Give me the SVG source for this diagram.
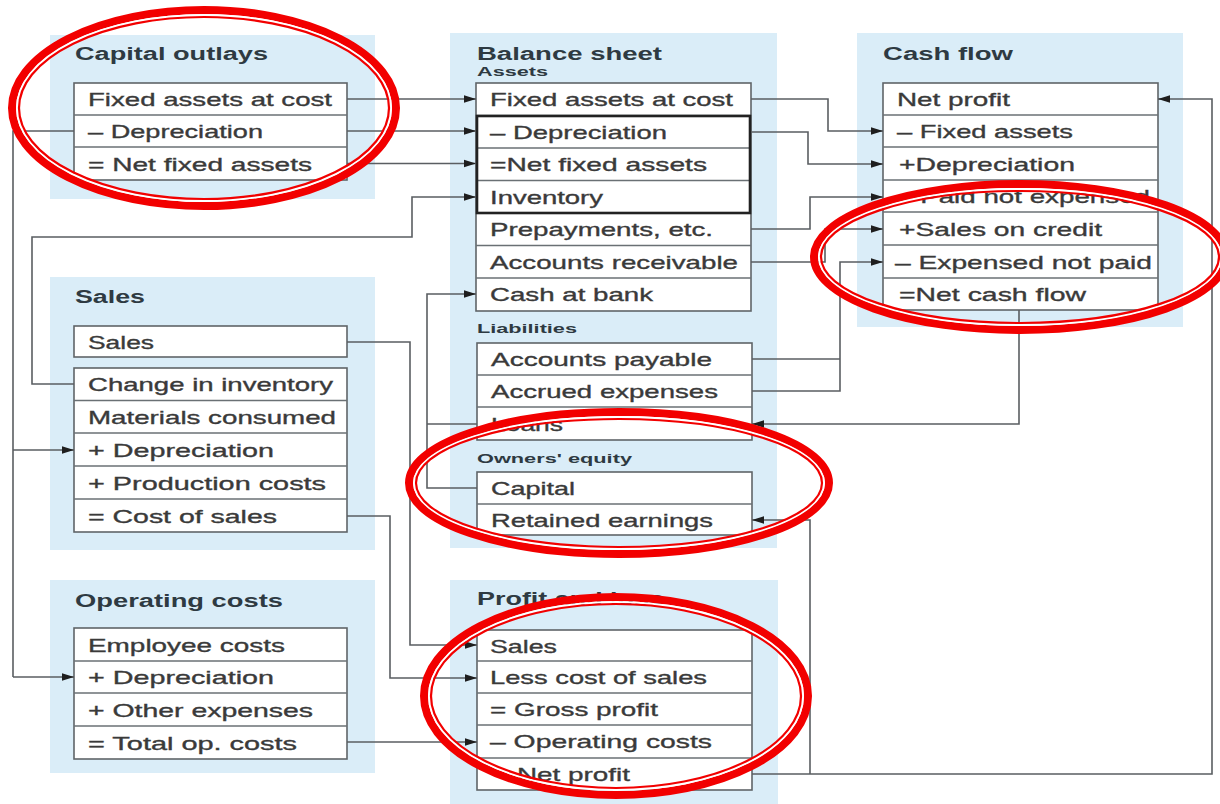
<svg xmlns="http://www.w3.org/2000/svg" width="1220" height="804" viewBox="0 0 1220 804">
<style>
.bg{fill:#ffffff}
.panel{fill:#daedf8}
.tbl{fill:#ffffff;stroke:#5f6468;stroke-width:1.6}
.div{stroke:#6a7074;stroke-width:1.4}
.thick{fill:none;stroke:#222;stroke-width:2.6}
.t{font-family:"Liberation Sans",Arial,sans-serif;font-size:19px;fill:#3a3a3a;stroke:#3a3a3a;stroke-width:0.35}
.h{font-family:"Liberation Sans",Arial,sans-serif;font-size:18px;font-weight:bold;fill:#2e3a42}
.s{font-family:"Liberation Sans",Arial,sans-serif;font-size:12px;font-weight:bold;fill:#2e3a42}
.c{fill:none;stroke:#5a5e62;stroke-width:1.6}
.ca{fill:none;stroke:#5a5e62;stroke-width:1.6;marker-end:url(#ah)}
.ro{fill:none;stroke:#f20000;stroke-width:8}
.rw{fill:none;stroke:#ffffff;stroke-width:2}
.ri{fill:none;stroke:#f20000;stroke-width:2.2}
</style>
<defs>
<marker id="ah" markerUnits="userSpaceOnUse" markerWidth="14" markerHeight="10" refX="12" refY="5" orient="auto">
<path d="M0,1.2 L12,5 L0,8.8 z" fill="#1e1e1e"/>
</marker>
</defs>
<rect class="bg" x="0" y="0" width="1220" height="804"/>

<g id="capital-outlays">
<rect class="panel" x="50" y="35" width="325" height="164"/>
<text class="h" x="75" y="60" textLength="193" lengthAdjust="spacingAndGlyphs">Capital outlays</text>
<rect class="tbl" x="74" y="83" width="273" height="97"/>
<line class="div" x1="74" y1="115" x2="347" y2="115"/>
<line class="div" x1="74" y1="147" x2="347" y2="147"/>
<text class="t" x="88" y="106" textLength="244" lengthAdjust="spacingAndGlyphs">Fixed assets at cost</text>
<text class="t" x="88" y="138" textLength="175" lengthAdjust="spacingAndGlyphs">– Depreciation</text>
<text class="t" x="88" y="170.5" textLength="224" lengthAdjust="spacingAndGlyphs">= Net fixed assets</text>
</g>

<g id="balance-sheet">
<rect class="panel" x="450" y="33" width="327" height="515"/>
<text class="h" x="477" y="60" textLength="185" lengthAdjust="spacingAndGlyphs">Balance sheet</text>
<text class="s" x="477" y="76" textLength="71" lengthAdjust="spacingAndGlyphs">Assets</text>
<rect class="tbl" x="476" y="83" width="275" height="228"/>
<line class="div" x1="476" y1="115.5" x2="751" y2="115.5"/>
<line class="div" x1="476" y1="148" x2="751" y2="148"/>
<line class="div" x1="476" y1="180.5" x2="751" y2="180.5"/>
<line class="div" x1="476" y1="213" x2="751" y2="213"/>
<line class="div" x1="476" y1="245.5" x2="751" y2="245.5"/>
<line class="div" x1="476" y1="278" x2="751" y2="278"/>
<rect class="thick" x="477" y="116" width="273" height="97"/>
<text class="t" x="490" y="106" textLength="243" lengthAdjust="spacingAndGlyphs">Fixed assets at cost</text>
<text class="t" x="490" y="139" textLength="177" lengthAdjust="spacingAndGlyphs">– Depreciation</text>
<text class="t" x="490" y="171" textLength="217" lengthAdjust="spacingAndGlyphs">=Net fixed assets</text>
<text class="t" x="490" y="204" textLength="113" lengthAdjust="spacingAndGlyphs">Inventory</text>
<text class="t" x="490" y="236" textLength="223" lengthAdjust="spacingAndGlyphs">Prepayments, etc.</text>
<text class="t" x="490" y="269" textLength="248" lengthAdjust="spacingAndGlyphs">Accounts receivable</text>
<text class="t" x="490" y="301" textLength="163" lengthAdjust="spacingAndGlyphs">Cash at bank</text>
<text class="s" x="477" y="333" textLength="100" lengthAdjust="spacingAndGlyphs">Liabilities</text>
<rect class="tbl" x="477" y="343" width="275" height="97"/>
<line class="div" x1="477" y1="375" x2="752" y2="375"/>
<line class="div" x1="477" y1="407" x2="752" y2="407"/>
<text class="t" x="491" y="366" textLength="221" lengthAdjust="spacingAndGlyphs">Accounts payable</text>
<text class="t" x="491" y="398" textLength="227" lengthAdjust="spacingAndGlyphs">Accrued expenses</text>
<text class="t" x="491" y="430.5" textLength="72" lengthAdjust="spacingAndGlyphs">Loans</text>
<text class="s" x="477" y="463" textLength="155" lengthAdjust="spacingAndGlyphs">Owners' equity</text>
<rect class="tbl" x="477" y="472" width="275" height="63"/>
<line class="div" x1="477" y1="504" x2="752" y2="504"/>
<text class="t" x="491" y="495" textLength="84" lengthAdjust="spacingAndGlyphs">Capital</text>
<text class="t" x="491" y="527" textLength="222" lengthAdjust="spacingAndGlyphs">Retained earnings</text>
</g>

<g id="cash-flow">
<rect class="panel" x="857" y="33" width="326" height="294"/>
<text class="h" x="883" y="60" textLength="130" lengthAdjust="spacingAndGlyphs">Cash flow</text>
<rect class="tbl" x="883" y="83" width="275" height="227"/>
<line class="div" x1="883" y1="115" x2="1158" y2="115"/>
<line class="div" x1="883" y1="147" x2="1158" y2="147"/>
<line class="div" x1="883" y1="180" x2="1158" y2="180"/>
<line class="div" x1="883" y1="212" x2="1158" y2="212"/>
<line class="div" x1="883" y1="245" x2="1158" y2="245"/>
<line class="div" x1="883" y1="278" x2="1158" y2="278"/>
<text class="t" x="897" y="106" textLength="113" lengthAdjust="spacingAndGlyphs">Net profit</text>
<text class="t" x="897" y="138" textLength="176" lengthAdjust="spacingAndGlyphs">– Fixed assets</text>
<text class="t" x="899" y="170.5" textLength="176" lengthAdjust="spacingAndGlyphs">+Depreciation</text>
<text class="t" x="897" y="203" textLength="253" lengthAdjust="spacingAndGlyphs">– Paid not expensed</text>
<text class="t" x="899" y="235.5" textLength="203" lengthAdjust="spacingAndGlyphs">+Sales on credit</text>
<text class="t" x="895" y="268.5" textLength="257" lengthAdjust="spacingAndGlyphs">– Expensed not paid</text>
<text class="t" x="899" y="301" textLength="187" lengthAdjust="spacingAndGlyphs">=Net cash flow</text>
</g>

<g id="sales">
<rect class="panel" x="50" y="277" width="325" height="273"/>
<text class="h" x="75" y="303" textLength="70" lengthAdjust="spacingAndGlyphs">Sales</text>
<rect class="tbl" x="74" y="326" width="273" height="31"/>
<text class="t" x="88" y="348.5" textLength="66" lengthAdjust="spacingAndGlyphs">Sales</text>
<rect class="tbl" x="74" y="368" width="273" height="164"/>
<line class="div" x1="74" y1="400.5" x2="347" y2="400.5"/>
<line class="div" x1="74" y1="433" x2="347" y2="433"/>
<line class="div" x1="74" y1="466" x2="347" y2="466"/>
<line class="div" x1="74" y1="499" x2="347" y2="499"/>
<text class="t" x="88" y="391" textLength="245" lengthAdjust="spacingAndGlyphs">Change in inventory</text>
<text class="t" x="88" y="424" textLength="248" lengthAdjust="spacingAndGlyphs">Materials consumed</text>
<text class="t" x="88" y="456.5" textLength="186" lengthAdjust="spacingAndGlyphs">+ Depreciation</text>
<text class="t" x="88" y="489.5" textLength="238" lengthAdjust="spacingAndGlyphs">+ Production costs</text>
<text class="t" x="88" y="522.5" textLength="189" lengthAdjust="spacingAndGlyphs">= Cost of sales</text>
</g>

<g id="operating-costs">
<rect class="panel" x="50" y="580" width="325" height="193"/>
<text class="h" x="75" y="607" textLength="208" lengthAdjust="spacingAndGlyphs">Operating costs</text>
<rect class="tbl" x="74" y="628" width="273" height="131"/>
<line class="div" x1="74" y1="661" x2="347" y2="661"/>
<line class="div" x1="74" y1="693" x2="347" y2="693"/>
<line class="div" x1="74" y1="726" x2="347" y2="726"/>
<text class="t" x="88" y="651.5" textLength="197" lengthAdjust="spacingAndGlyphs">Employee costs</text>
<text class="t" x="88" y="684" textLength="186" lengthAdjust="spacingAndGlyphs">+ Depreciation</text>
<text class="t" x="88" y="716.5" textLength="225" lengthAdjust="spacingAndGlyphs">+ Other expenses</text>
<text class="t" x="88" y="749.5" textLength="209" lengthAdjust="spacingAndGlyphs">= Total op. costs</text>
</g>

<g id="profit-and-loss">
<rect class="panel" x="450" y="580" width="328" height="224"/>
<text class="h" x="477" y="605" textLength="187" lengthAdjust="spacingAndGlyphs">Profit and loss</text>
<rect class="tbl" x="477" y="630" width="275" height="160"/>
<line class="div" x1="477" y1="661" x2="752" y2="661"/>
<line class="div" x1="477" y1="693" x2="752" y2="693"/>
<line class="div" x1="477" y1="725" x2="752" y2="725"/>
<line class="div" x1="477" y1="758" x2="752" y2="758"/>
<text class="t" x="490" y="652.5" textLength="67" lengthAdjust="spacingAndGlyphs">Sales</text>
<text class="t" x="490" y="684" textLength="217" lengthAdjust="spacingAndGlyphs">Less cost of sales</text>
<text class="t" x="490" y="716" textLength="168" lengthAdjust="spacingAndGlyphs">= Gross profit</text>
<text class="t" x="490" y="748" textLength="222" lengthAdjust="spacingAndGlyphs">– Operating costs</text>
<text class="t" x="517" y="781" textLength="113" lengthAdjust="spacingAndGlyphs">Net profit</text>
</g>

<g id="connectors">
<polyline class="ca" points="347,99 476,99"/>
<polyline class="ca" points="347,131 476,131"/>
<polyline class="ca" points="347,163.5 476,163.5"/>
<polyline class="c" points="74,131 13,131 13,677"/>
<polyline class="ca" points="13,450 74,450"/>
<polyline class="ca" points="13,677 74,677"/>
<polyline class="ca" points="74,384 32,384 32,237 412,237 412,197 476,197"/>
<polyline class="ca" points="477,488 427,488 427,294 476,294"/>
<polyline class="c" points="477,424 427,424"/>
<polyline class="ca" points="347,342 410,342 410,645 477,645"/>
<polyline class="ca" points="347,516 390,516 390,678 477,678"/>
<polyline class="ca" points="347,742 477,742"/>
<polyline class="ca" points="751,99 828,99 828,131 883,131"/>
<polyline class="ca" points="751,132 808,132 808,164 883,164"/>
<polyline class="ca" points="751,229 810,229 810,197 883,197"/>
<polyline class="ca" points="751,262 825,262 825,229 883,229"/>
<polyline class="c" points="752,359 840,359"/>
<polyline class="ca" points="752,391 840,391 840,262 883,262"/>
<polyline class="ca" points="1019,310 1019,424 752,424"/>
<polyline class="ca" points="752,774 1212,774 1212,99 1158,99"/>
<polyline class="ca" points="810,774 810,520 752,520"/>
</g>

<g id="highlights">
<ellipse class="ro" cx="204" cy="108" rx="192" ry="98"/>
<ellipse class="rw" cx="204" cy="108" rx="187" ry="93"/>
<ellipse class="ri" cx="204" cy="108" rx="185" ry="91"/>
<ellipse class="ro" cx="1020" cy="257" rx="206" ry="73"/>
<ellipse class="rw" cx="1020" cy="257" rx="201" ry="68"/>
<ellipse class="ri" cx="1020" cy="257" rx="199" ry="66"/>
<ellipse class="ro" cx="619" cy="483" rx="210" ry="71"/>
<ellipse class="rw" cx="619" cy="483" rx="205" ry="66"/>
<ellipse class="ri" cx="619" cy="483" rx="203" ry="64"/>
<ellipse class="ro" cx="616" cy="696" rx="192" ry="99"/>
<ellipse class="rw" cx="616" cy="696" rx="187" ry="94"/>
<ellipse class="ri" cx="616" cy="696" rx="185" ry="92"/>
</g>
</svg>
